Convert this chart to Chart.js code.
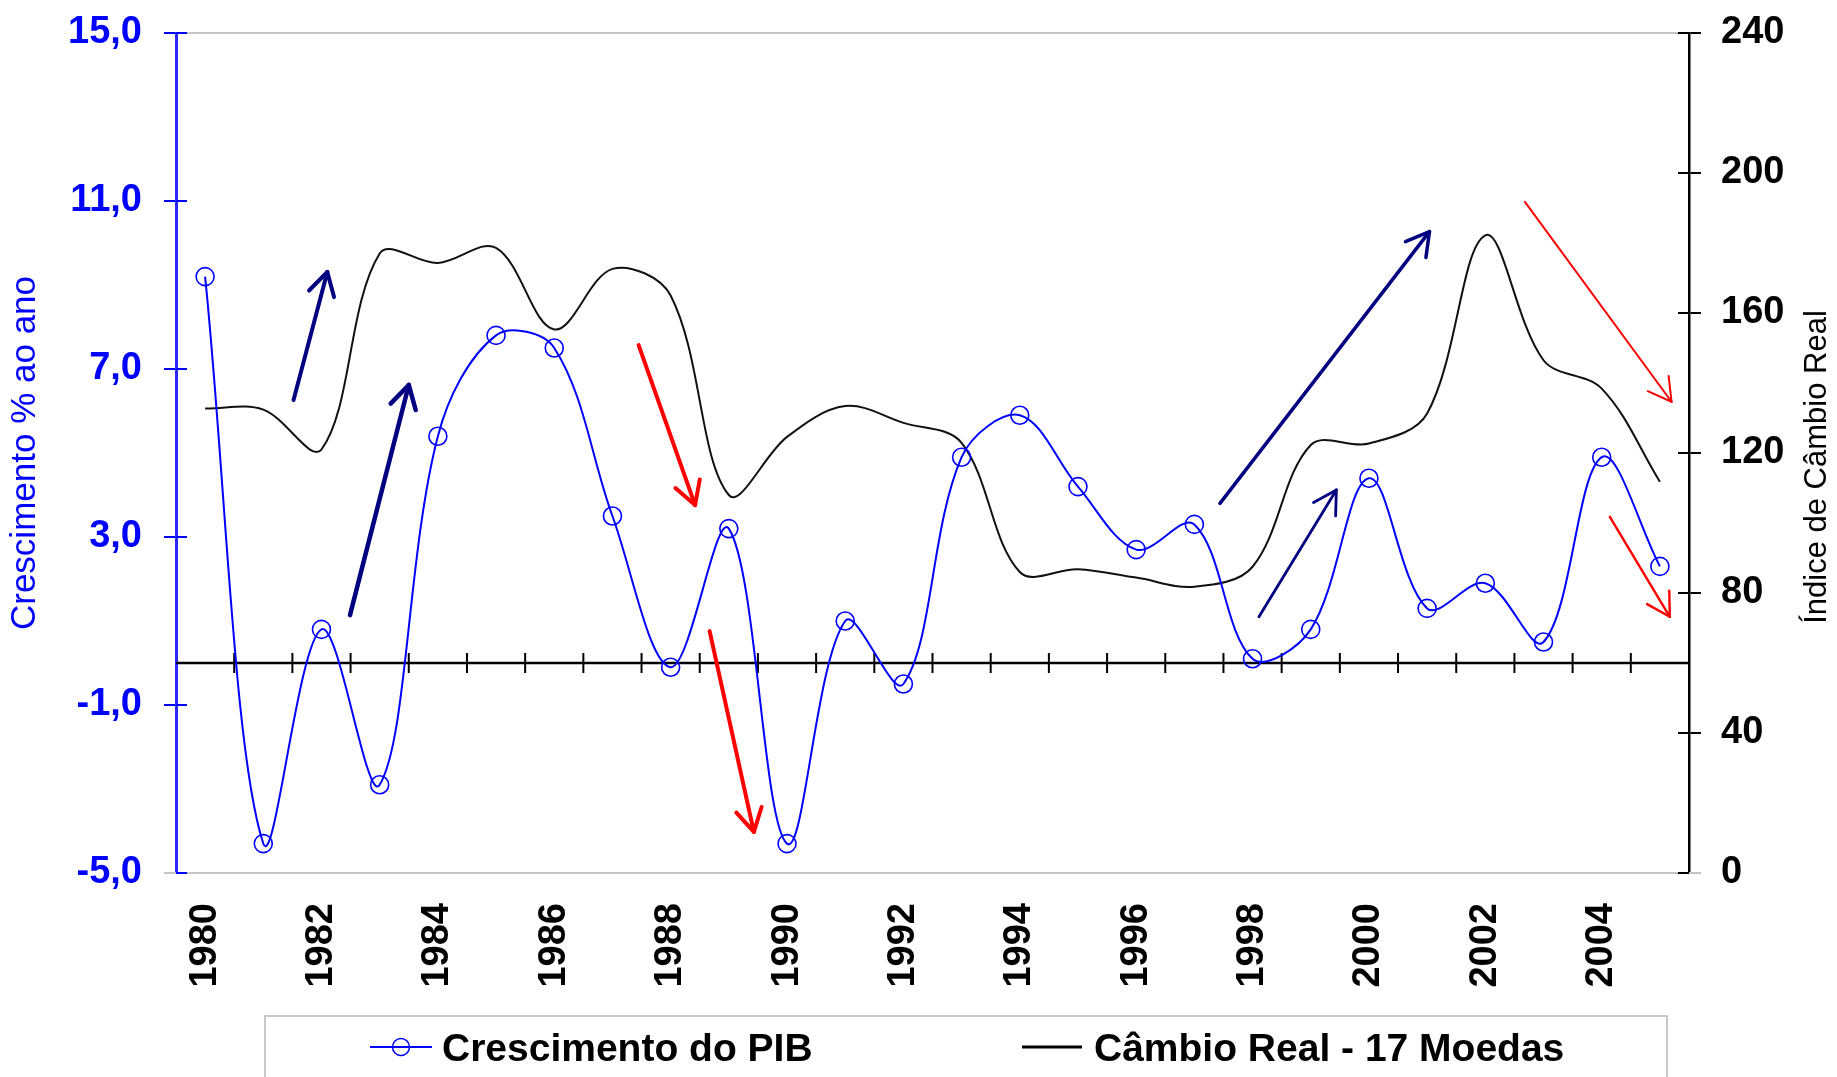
<!DOCTYPE html>
<html><head><meta charset="utf-8">
<script src="https://cdn.jsdelivr.net/npm/chart.js@4.4.1/dist/chart.umd.min.js"></script>
<style>html,body{margin:0;padding:0;background:#fff;}canvas{display:block;}</style>
</head><body>
<canvas id="c" width="1837" height="1077"></canvas>
<script>
// ---------- data ----------
const years = [1980,1981,1982,1983,1984,1985,1986,1987,1988,1989,1990,1991,1992,1993,1994,1995,1996,1997,1998,1999,2000,2001,2002,2003,2004,2005];
const pib = [9.2,-4.3,0.8,-2.9,5.4,7.8,7.5,3.5,-0.1,3.2,-4.3,1.0,-0.5,4.9,5.9,4.2,2.7,3.3,0.1,0.8,4.4,1.3,1.9,0.5,4.9,2.3];
const cambio = [132.7,132.4,121.0,177.0,174.3,178.6,155.3,172.6,165.0,108.0,124.6,133.4,128.6,122.9,86.0,86.8,84.4,81.8,87.5,122.3,122.7,131.3,182.2,146.5,138.4,111.8];
const leftTicks = [-5,-1,3,7,11,15];
const rightTicks = [0,40,80,120,160,200,240];
const seriesNames = ['Crescimento do PIB','Câmbio Real - 17 Moedas'];
const leftTitle = 'Crescimento % ao ano';
const rightTitle = 'Índice de Câmbio Real';
// annotation arrows, in (category index, left-axis value)
const arrowTail = [[1.52,6.26],[2.49,1.14],[17.44,3.80],[18.11,1.10],[7.45,7.57],[8.67,0.76],[22.68,10.98],[24.14,3.48]];
const arrowTip  = [[2.10,9.31],[3.50,6.62],[21.04,10.27],[19.44,4.12],[8.42,3.76],[9.43,-4.02],[25.20,6.22],[25.17,1.10]];
const arrowKind = ['up','up','up','up','down','down','down','down'];

// ---------- styles ----------
const FONT = '"Liberation Sans", Arial, sans-serif';
const BLUE = '#0000ff';
const arrowWidths = [4,4.5,3.5,2.8,4,4,2,2.4];

function seg(ctx,x1,y1,x2,y2){ctx.beginPath();ctx.moveTo(x1,y1);ctx.lineTo(x2,y2);ctx.stroke();}
function noPad(s){s.paddingTop=0;s.paddingBottom=0;s.paddingLeft=0;s.paddingRight=0;}

const decor = {
  id:'decor',
  beforeDatasetsDraw(chart){
    const {ctx, chartArea:a, scales:{x,y,y1}} = chart;
    ctx.save();
    ctx.strokeStyle = '#c4c4c4'; ctx.lineWidth = 2;
    seg(ctx,a.left,a.top,a.right,a.top);
    seg(ctx,a.left-12,a.bottom,a.right+12,a.bottom);
    // inner halves of axis ticks
    ctx.strokeStyle = BLUE; ctx.lineWidth = 2;
    leftTicks.forEach(v=>{const p=y.getPixelForValue(v); seg(ctx,a.left,p,a.left+11,p);});
    ctx.strokeStyle = '#000';
    rightTicks.forEach(v=>{const p=y1.getPixelForValue(v); seg(ctx,a.right-11,p,a.right,p);});
    // zero line with crossing category ticks
    const y0 = y.getPixelForValue(0);
    ctx.strokeStyle = '#000'; ctx.lineWidth = 2.5;
    seg(ctx,a.left,y0,a.right,y0);
    ctx.lineWidth = 2;
    for(let k=1;k<years.length;k++){const px=x.getPixelForValue(k-0.5); seg(ctx,px,y0-10,px,y0+10);}
    ctx.restore();
  },
  afterDatasetsDraw(chart){
    const {ctx, scales:{x,y}} = chart;
    ctx.save();
    ctx.lineCap = 'round'; ctx.lineJoin='round';
    arrowTail.forEach((t,i)=>{
      const x1=x.getPixelForValue(t[0]), y1p=y.getPixelForValue(t[1]);
      const x2=x.getPixelForValue(arrowTip[i][0]), y2=y.getPixelForValue(arrowTip[i][1]);
      ctx.strokeStyle = arrowKind[i]==='up' ? '#000080' : '#ff0000';
      ctx.lineWidth = arrowWidths[i];
      seg(ctx,x1,y1p,x2,y2);
      const ang = Math.atan2(y1p-y2, x1-x2), L=26, h=0.52;
      seg(ctx,x2,y2,x2+L*Math.cos(ang+h),y2+L*Math.sin(ang+h));
      seg(ctx,x2,y2,x2+L*Math.cos(ang-h),y2+L*Math.sin(ang-h));
    });
    ctx.restore();
  },
  afterDraw(chart){
    const {ctx, chartArea:a} = chart;
    ctx.save();
    // right axis title (reads bottom to top)
    ctx.translate(1817, (a.top+a.bottom)/2+14);
    ctx.rotate(-Math.PI/2);
    ctx.fillStyle='#000'; ctx.font='31px '+FONT; ctx.textAlign='center'; ctx.textBaseline='middle';
    ctx.fillText(rightTitle,0,0);
    ctx.restore();
    // legend
    ctx.save();
    ctx.strokeStyle='#c8c8c8'; ctx.lineWidth=2;
    ctx.strokeRect(265,1016,1402,120);
    const ly=1047;
    ctx.strokeStyle=BLUE; ctx.lineWidth=2; seg(ctx,370,ly,432,ly);
    ctx.lineWidth=1.5; ctx.beginPath(); ctx.arc(401,ly,8.5,0,Math.PI*2); ctx.stroke();
    ctx.strokeStyle='#000'; ctx.lineWidth=3; seg(ctx,1022,ly,1082,ly);
    ctx.fillStyle='#000'; ctx.font='bold 39px '+FONT; ctx.textBaseline='alphabetic'; ctx.textAlign='left';
    ctx.fillText(seriesNames[0],442,1061);
    ctx.fillText(seriesNames[1],1094,1061);
    ctx.restore();
  }
};

new Chart(document.getElementById('c'),{
  type:'line',
  data:{
    labels: years.map(String),
    datasets:[
      {label:seriesNames[0], data:pib, yAxisID:'y', borderColor:BLUE, borderWidth:2, tension:0.35,
       pointRadius:9, pointStyle:'circle', pointBackgroundColor:'rgba(0,0,0,0)', pointBorderColor:BLUE, pointBorderWidth:1.6, clip:false},
      {label:seriesNames[1], data:cambio, yAxisID:'y1', borderColor:'#111', borderWidth:2, tension:0.35, pointRadius:0, clip:false}
    ]
  },
  options:{
    responsive:false, animation:false, devicePixelRatio:1,
    layout:{padding:{top:33,left:0,right:0,bottom:0}},
    plugins:{legend:{display:false}, tooltip:{enabled:false}},
    scales:{
      x:{type:'category', position:'bottom', offset:true,
         grid:{display:false, drawTicks:false}, border:{display:false},
         ticks:{autoSkip:false, minRotation:90, maxRotation:90, padding:30, color:'#000',
                font:{family:FONT, size:38, weight:'bold'},
                callback:(v,i)=> i%2===0 ? String(years[i]) : ''},
         afterFit:s=>{s.height=204; noPad(s);}},
      y:{position:'left', min:-5, max:15,
         afterBuildTicks:s=>{s.ticks=leftTicks.map(v=>({value:v}));},
         grid:{drawOnChartArea:false, color:BLUE, lineWidth:2, tickLength:12},
         border:{color:'#2a2aff', width:3},
         ticks:{color:BLUE, padding:22, font:{family:FONT, size:38, weight:'bold'},
                callback:v=>v.toFixed(1).replace('.',',')},
         title:{display:true, text:leftTitle, color:BLUE, font:{family:FONT, size:35}, padding:{top:4,bottom:0}},
         afterFit:s=>{s.width=176; noPad(s);}},
      y1:{position:'right', min:0, max:240,
         afterBuildTicks:s=>{s.ticks=rightTicks.map(v=>({value:v}));},
         grid:{drawOnChartArea:false, color:'#000', lineWidth:2, tickLength:12},
         border:{color:'#000', width:2.5},
         ticks:{color:'#000', padding:20, font:{family:FONT, size:38, weight:'bold'}},
         afterFit:s=>{s.width=148; noPad(s);}}
    }
  },
  plugins:[decor]
});
</script>
</body></html>
